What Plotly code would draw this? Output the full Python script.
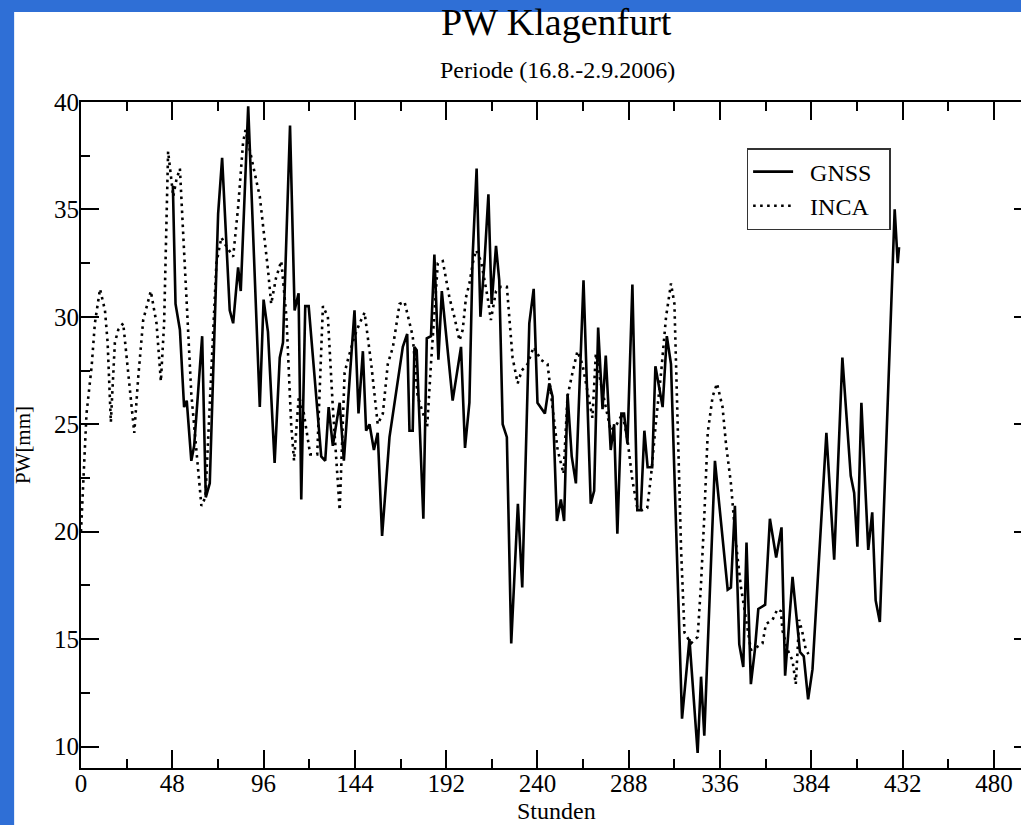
import plotly.graph_objects as go

# ---------------- data ----------------
gnss_hours = [48.3, 49.7, 52, 54.2, 55.6, 58, 59.5, 63.7, 65.6, 67.7, 72.1, 74.2, 78.2, 80, 82.6, 84,
              87.9, 94, 96, 98.3, 101.8, 104.5, 106.2, 109.9, 112.3, 114.4, 115.8, 117.9, 119.7,
              126.3, 128.4, 130.2, 132.4, 136, 138.2, 143.8, 145.9, 148.2, 149.9, 151.7, 154, 156,
              158.3, 162.2, 169.2, 171.5, 172.7, 174.4, 175.3, 176.5, 180, 181.8, 184, 185.8, 187.9,
              189.7, 195.4, 199.8, 201.9, 204.2, 205.9, 208, 210, 212.1, 214.2, 215.9, 218.2, 219.9,
              221.7, 223.9, 226.2, 229.7, 232, 235.7, 238, 240, 243.9, 246.2, 247.9, 250.2, 252.3,
              254, 255.8, 258, 260.2, 264.2, 268, 269.8, 271.9, 274.2, 275.9, 278.5, 280.3, 282,
              284.1, 285.5, 287.3, 289.9, 292.5, 294.3, 296.2, 297.9, 300.3, 302, 305.8, 308, 310.2,
              316, 319.9, 324.2, 326, 327.7, 333.3, 340, 341.7, 343.8, 346.1, 348.2, 349.9, 352.2,
              354.3, 356.1, 359.7, 362.2, 365.5, 368.3, 370.2, 374.1, 378, 380, 382.3, 384.6, 391.9,
              396, 400.3, 404.7, 406.5, 408.2, 410.3, 413.9, 416, 417.8, 420, 427.8, 429.4, 430.1]
gnss_pw = [36.1, 30.6, 29.4, 25.8, 26.1, 23.3, 24.0, 29.1, 21.6, 22.25, 34.8, 37.4, 30.3, 29.7, 32.3, 31.2,
           39.8, 25.8, 30.8, 29.3, 23.2, 28.1, 28.8, 38.9, 30.3, 31.1, 21.5, 30.5, 30.5,
           23.5, 23.3, 25.8, 24.0, 26.0, 23.3, 30.3, 25.5, 28.4, 24.7, 25.0, 23.8, 24.6,
           19.8, 24.4, 28.6, 29.2, 24.7, 24.7, 28.6, 28.45, 20.6, 29.0, 29.1, 32.9, 28.0,
           31.2, 26.1, 28.6, 23.9, 26.0, 32.8, 36.9, 30.0, 32.5, 35.7, 30.6, 33.3, 31.7,
           25.0, 24.4, 14.8, 21.3, 17.4, 29.7, 31.3, 26.0, 25.5, 26.9, 26.3, 20.5, 21.5,
           20.5, 26.4, 23.5, 22.25, 31.7, 21.3, 21.9, 29.5, 25.7, 28.2, 23.8, 25.0, 19.9,
           25.5, 25.5, 24.1, 31.5, 21.0, 21.0, 24.7, 23.0, 23.0, 27.7, 25.8, 29.1, 27.8,
           11.3, 15.0, 9.7, 13.25, 10.5, 23.3, 17.3, 17.4, 21.2, 14.75, 13.7, 19.5, 12.9,
           14.5, 16.4, 16.6, 20.6, 18.8, 20.2, 13.3, 17.9, 14.4, 14.2, 12.2, 13.6, 24.6,
           18.7, 28.1, 22.6, 21.8, 19.3, 26.0, 19.15, 20.9, 16.8, 15.8, 35.0, 32.5, 33.25]

inca_hours = [0, 2.9, 5.6, 7.3, 10, 12.6, 14, 15.7, 17.8, 19.6, 22.2, 24.8, 28, 30.1, 32.7, 36.7, 39.7,
              42, 43.7, 45.8, 48.5, 50.2, 52, 58, 63.3, 65.4, 71.2, 73.8, 75.6, 80, 82.6, 85.2, 86.5,
              91.3, 94, 98.3, 100, 102.5, 105.3, 108, 110.5, 112, 114.5, 117, 120.5, 124.2, 127.2,
              129.8, 132.4, 136, 138.6, 140.3, 143.8, 146.5, 149.1, 152.6, 156, 158.7, 161.3, 164,
              167.5, 170.1, 174.4, 177, 182, 184, 187.6, 190.2, 193.7, 196.3, 199, 200.7, 202.4,
              204.2, 206, 207.7, 210.3, 213.8, 215.5, 218.2, 220.8, 223.9, 226.9, 229.6, 231.7,
              234.8, 238, 241.8, 245.3, 247.9, 250.6, 253.7, 255.8, 258.4, 261, 263.6, 266.3,
              268.9, 270.7, 273.3, 275.9, 278.5, 281.7, 284.7, 287.3, 289.9, 292.5, 295.1, 297.7,
              299.7, 302.4, 305, 307.6, 310.2, 312, 313.2, 315.5, 317.3, 320.7, 324.2, 326, 327.7,
              329.5, 332.1, 334.4, 337.3, 339.1, 341.7, 344.3, 347, 349.6, 352.2, 354.9, 358.3,
              360.1, 363.6, 366.2, 368, 368.8, 371.5, 374.1, 375.8, 377.6, 379.3, 381.1, 382.5]
inca_pw = [20.0, 25.5, 27.7, 29.7, 31.3, 30.3, 28.8, 25.1, 28.8, 29.4, 29.7, 27.5, 24.6, 27.2, 29.85, 31.2, 29.7,
           27.0, 29.7, 37.7, 35.6, 36.4, 36.9, 26.4, 21.2, 21.6, 32.5, 33.7, 33.4, 32.8, 35.1, 38.1, 38.7,
           36.7, 35.6, 32.2, 30.6, 31.8, 32.6, 30.0, 25.0, 23.3, 26.3, 25.6, 23.6, 23.6, 30.5,
           30.0, 25.8, 21.0, 27.4, 28.0, 29.1, 29.7, 30.2, 27.8, 25.0, 25.5, 27.8, 28.6,
           30.6, 30.7, 29.1, 26.3, 24.9, 27.8, 32.5, 32.6, 30.9, 30.0, 28.9, 29.4, 30.9,
           31.55, 32.5, 33.1, 32.6, 30.9, 29.85, 31.2, 31.4, 31.4, 28.1, 26.9, 27.5,
           27.8, 28.6, 28.0, 27.8, 25.8, 23.8, 22.7, 26.3, 27.4, 28.4, 27.8, 26.6,
           25.3, 28.3, 26.9, 25.8, 24.7, 25.0, 25.5, 24.3, 22.4, 21.1, 21.0, 21.1,
           22.6, 25.2, 27.4, 30.0, 31.55, 30.6, 26.9, 19.15, 15.3, 14.8, 15.1, 17.6, 20.7,
           24.6, 26.3, 26.9, 25.8, 24.1, 22.25, 19.5, 17.4, 16.0, 14.5, 14.6, 14.8,
           15.7, 15.9, 16.4, 16.3, 15.4, 14.5, 14.0, 12.9, 15.9, 15.3, 14.5, 14.3]

x_ticks = [0, 48, 96, 144, 192, 240, 288, 336, 384, 432, 480]
y_ticks = [10, 15, 20, 25, 30, 35, 40]

FONT = "Liberation Serif"
# the original frame runs slightly past the right edge of the 1021px window (x range 0..500)
W, H = 1034, 825
ML, MR, MT, MB = 81, 0, 102, 57
PW_ = W - ML - MR
PH_ = H - MT - MB


def px(x):
    return (x - ML) / PW_


def py(y):
    return (H - MB - y) / PH_


NB = "\u00a0"
fig = go.Figure()
fig.add_trace(go.Scatter(x=gnss_hours, y=gnss_pw, mode="lines", name=NB * 2 + "GNSS" + NB * 2,
                         line=dict(color="black", width=2.6)))
fig.add_trace(go.Scatter(x=inca_hours, y=inca_pw, mode="lines", name=NB * 2 + "INCA" + NB * 2,
                         line=dict(color="black", width=2.6, dash="2.6px,4.4px")))

axis_common = dict(showgrid=False, zeroline=False, showline=True, linecolor="black", linewidth=2,
                   mirror="ticks", ticks="inside", tickcolor="black", tickwidth=2, ticklen=18,
                   tickfont=dict(family=FONT, size=25, color="black"))

fig.update_xaxes(range=[0, 500], tickvals=x_ticks, ticktext=[str(v) for v in x_ticks],
                 ticklabelstandoff=-8,
                 minor=dict(dtick=24, tick0=0, ticklen=9, tickwidth=2, tickcolor="black", ticks="inside"),
                 **axis_common)
fig.update_yaxes(range=[9, 40], tickvals=y_ticks, ticktext=[str(v) for v in y_ticks],
                 ticklabelstandoff=-5,
                 minor=dict(dtick=2.5, tick0=0, ticklen=9, tickwidth=2, tickcolor="black", ticks="inside"),
                 **axis_common)

fig.update_layout(
    width=W, height=H,
    margin=dict(l=ML, r=MR, t=MT, b=MB, pad=0),
    paper_bgcolor="#2f6fd6", plot_bgcolor="white",
    showlegend=True,
    legend=dict(x=px(748), y=py(148), xanchor="left", yanchor="top",
                bgcolor="white", bordercolor="#333333", borderwidth=1.5,
                font=dict(family=FONT, size=24, color="black"),
                tracegroupgap=0, itemwidth=40),
    shapes=[dict(type="rect", xref="paper", yref="paper", x0=px(14), x1=px(W + 5), y0=py(H + 5), y1=py(12),
                 fillcolor="white", line=dict(width=0), layer="below")],
    annotations=[
        dict(text="PW Klagenfurt", x=px(557), y=py(22), xref="paper", yref="paper", showarrow=False,
             xanchor="center", yanchor="middle", font=dict(family=FONT, size=38, color="black")),
        dict(text="Periode (16.8.-2.9.2006)", x=px(559), y=py(70), xref="paper", yref="paper",
             showarrow=False, xanchor="center", yanchor="middle",
             font=dict(family=FONT, size=24, color="black")),
        dict(text="Stunden", x=px(557), y=py(811), xref="paper", yref="paper", showarrow=False,
             xanchor="center", yanchor="middle", font=dict(family=FONT, size=24, color="black")),
        dict(text="PW[mm]", x=px(23), y=py(445), xref="paper", yref="paper", showarrow=False,
             textangle=-90, xanchor="center", yanchor="middle",
             font=dict(family=FONT, size=21, color="black")),
    ],
)

fig.write_html("out.html", config={"displayModeBar": False},
               post_script="document.body.style.margin='0';document.body.style.overflow='hidden';")
